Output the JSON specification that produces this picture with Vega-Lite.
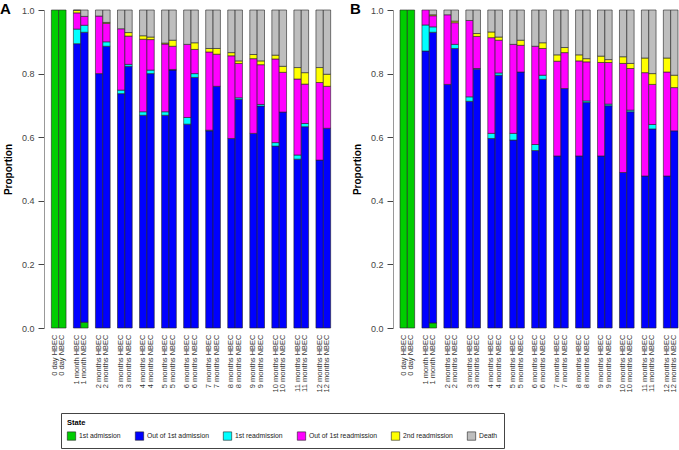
{
  "$schema": "https://vega.github.io/schema/vega-lite/v6.json",
  "padding": {"top": 2, "left": 0, "right": 0, "bottom": 0},
  "bounds": "flush",
  "spacing": 55,
  "config": {"font": "Liberation Sans", "view": {"stroke": null}},
  "datasets": {
    "d": [
      {"p": "A", "bar": "0 day HBEC", "1st admission": 1, "Out of 1st admission": 0, "1st readmission": 0, "Out of 1st readmission": 0, "2nd readmission": 0, "Death": 0},
      {"p": "A", "bar": "0 day NBEC", "1st admission": 1, "Out of 1st admission": 0, "1st readmission": 0, "Out of 1st readmission": 0, "2nd readmission": 0, "Death": 0},
      {"p": "A", "bar": "1 month HBEC", "1st admission": 0, "Out of 1st admission": 0.894, "1st readmission": 0.046, "Out of 1st readmission": 0.051, "2nd readmission": 0.008, "Death": 0.001},
      {"p": "A", "bar": "1 month NBEC", "1st admission": 0.018, "Out of 1st admission": 0.912, "1st readmission": 0.022, "Out of 1st readmission": 0.028, "2nd readmission": 0, "Death": 0.020},
      {"p": "A", "bar": "2 months HBEC", "1st admission": 0, "Out of 1st admission": 0.800, "1st readmission": 0, "Out of 1st readmission": 0.181, "2nd readmission": 0, "Death": 0.019},
      {"p": "A", "bar": "2 months NBEC", "1st admission": 0, "Out of 1st admission": 0.886, "1st readmission": 0.014, "Out of 1st readmission": 0.058, "2nd readmission": 0.003, "Death": 0.039},
      {"p": "A", "bar": "3 months HBEC", "1st admission": 0, "Out of 1st admission": 0.737, "1st readmission": 0.011, "Out of 1st readmission": 0.193, "2nd readmission": 0, "Death": 0.059},
      {"p": "A", "bar": "3 months NBEC", "1st admission": 0, "Out of 1st admission": 0.823, "1st readmission": 0.006, "Out of 1st readmission": 0.089, "2nd readmission": 0.011, "Death": 0.071},
      {"p": "A", "bar": "4 months HBEC", "1st admission": 0, "Out of 1st admission": 0.669, "1st readmission": 0.011, "Out of 1st readmission": 0.228, "2nd readmission": 0.011, "Death": 0.081},
      {"p": "A", "bar": "4 months NBEC", "1st admission": 0, "Out of 1st admission": 0.800, "1st readmission": 0.011, "Out of 1st readmission": 0.096, "2nd readmission": 0.008, "Death": 0.085},
      {"p": "A", "bar": "5 months HBEC", "1st admission": 0, "Out of 1st admission": 0.669, "1st readmission": 0.011, "Out of 1st readmission": 0.213, "2nd readmission": 0.003, "Death": 0.104},
      {"p": "A", "bar": "5 months NBEC", "1st admission": 0, "Out of 1st admission": 0.811, "1st readmission": 0.002, "Out of 1st readmission": 0.073, "2nd readmission": 0.019, "Death": 0.095},
      {"p": "A", "bar": "6 months HBEC", "1st admission": 0, "Out of 1st admission": 0.641, "1st readmission": 0.021, "Out of 1st readmission": 0.230, "2nd readmission": 0, "Death": 0.108},
      {"p": "A", "bar": "6 months NBEC", "1st admission": 0, "Out of 1st admission": 0.788, "1st readmission": 0.012, "Out of 1st readmission": 0.076, "2nd readmission": 0.021, "Death": 0.103},
      {"p": "A", "bar": "7 months HBEC", "1st admission": 0, "Out of 1st admission": 0.620, "1st readmission": 0.002, "Out of 1st readmission": 0.246, "2nd readmission": 0.011, "Death": 0.121},
      {"p": "A", "bar": "7 months NBEC", "1st admission": 0, "Out of 1st admission": 0.760, "1st readmission": 0, "Out of 1st readmission": 0.101, "2nd readmission": 0.018, "Death": 0.121},
      {"p": "A", "bar": "8 months HBEC", "1st admission": 0, "Out of 1st admission": 0.596, "1st readmission": 0, "Out of 1st readmission": 0.260, "2nd readmission": 0.010, "Death": 0.134},
      {"p": "A", "bar": "8 months NBEC", "1st admission": 0, "Out of 1st admission": 0.719, "1st readmission": 0.005, "Out of 1st readmission": 0.108, "2nd readmission": 0.008, "Death": 0.160},
      {"p": "A", "bar": "9 months HBEC", "1st admission": 0, "Out of 1st admission": 0.612, "1st readmission": 0, "Out of 1st readmission": 0.235, "2nd readmission": 0.013, "Death": 0.140},
      {"p": "A", "bar": "9 months NBEC", "1st admission": 0, "Out of 1st admission": 0.698, "1st readmission": 0.005, "Out of 1st readmission": 0.125, "2nd readmission": 0.012, "Death": 0.160},
      {"p": "A", "bar": "10 months HBEC", "1st admission": 0, "Out of 1st admission": 0.572, "1st readmission": 0.011, "Out of 1st readmission": 0.263, "2nd readmission": 0.012, "Death": 0.142},
      {"p": "A", "bar": "10 months NBEC", "1st admission": 0, "Out of 1st admission": 0.679, "1st readmission": 0, "Out of 1st readmission": 0.125, "2nd readmission": 0.019, "Death": 0.177},
      {"p": "A", "bar": "11 months HBEC", "1st admission": 0, "Out of 1st admission": 0.531, "1st readmission": 0.013, "Out of 1st readmission": 0.239, "2nd readmission": 0.036, "Death": 0.181},
      {"p": "A", "bar": "11 months NBEC", "1st admission": 0, "Out of 1st admission": 0.633, "1st readmission": 0.010, "Out of 1st readmission": 0.124, "2nd readmission": 0.036, "Death": 0.197},
      {"p": "A", "bar": "12 months HBEC", "1st admission": 0, "Out of 1st admission": 0.528, "1st readmission": 0, "Out of 1st readmission": 0.244, "2nd readmission": 0.047, "Death": 0.181},
      {"p": "A", "bar": "12 months NBEC", "1st admission": 0, "Out of 1st admission": 0.628, "1st readmission": 0, "Out of 1st readmission": 0.132, "2nd readmission": 0.038, "Death": 0.202},
      {"p": "B", "bar": "0 day HBEC", "1st admission": 1, "Out of 1st admission": 0, "1st readmission": 0, "Out of 1st readmission": 0, "2nd readmission": 0, "Death": 0},
      {"p": "B", "bar": "0 day NBEC", "1st admission": 1, "Out of 1st admission": 0, "1st readmission": 0, "Out of 1st readmission": 0, "2nd readmission": 0, "Death": 0},
      {"p": "B", "bar": "1 month HBEC", "1st admission": 0, "Out of 1st admission": 0.871, "1st readmission": 0.082, "Out of 1st readmission": 0.047, "2nd readmission": 0, "Death": 0},
      {"p": "B", "bar": "1 month NBEC", "1st admission": 0.016, "Out of 1st admission": 0.914, "1st readmission": 0.017, "Out of 1st readmission": 0.035, "2nd readmission": 0.003, "Death": 0.015},
      {"p": "B", "bar": "2 months HBEC", "1st admission": 0, "Out of 1st admission": 0.766, "1st readmission": 0, "Out of 1st readmission": 0.219, "2nd readmission": 0, "Death": 0.015},
      {"p": "B", "bar": "2 months NBEC", "1st admission": 0, "Out of 1st admission": 0.879, "1st readmission": 0.013, "Out of 1st readmission": 0.068, "2nd readmission": 0.005, "Death": 0.035},
      {"p": "B", "bar": "3 months HBEC", "1st admission": 0, "Out of 1st admission": 0.713, "1st readmission": 0.014, "Out of 1st readmission": 0.240, "2nd readmission": 0, "Death": 0.033},
      {"p": "B", "bar": "3 months NBEC", "1st admission": 0, "Out of 1st admission": 0.814, "1st readmission": 0.002, "Out of 1st readmission": 0.101, "2nd readmission": 0.009, "Death": 0.074},
      {"p": "B", "bar": "4 months HBEC", "1st admission": 0, "Out of 1st admission": 0.596, "1st readmission": 0.016, "Out of 1st readmission": 0.301, "2nd readmission": 0.018, "Death": 0.069},
      {"p": "B", "bar": "4 months NBEC", "1st admission": 0, "Out of 1st admission": 0.795, "1st readmission": 0.007, "Out of 1st readmission": 0.103, "2nd readmission": 0.010, "Death": 0.085},
      {"p": "B", "bar": "5 months HBEC", "1st admission": 0, "Out of 1st admission": 0.591, "1st readmission": 0.021, "Out of 1st readmission": 0.280, "2nd readmission": 0, "Death": 0.108},
      {"p": "B", "bar": "5 months NBEC", "1st admission": 0, "Out of 1st admission": 0.805, "1st readmission": 0, "Out of 1st readmission": 0.084, "2nd readmission": 0.016, "Death": 0.095},
      {"p": "B", "bar": "6 months HBEC", "1st admission": 0, "Out of 1st admission": 0.558, "1st readmission": 0.019, "Out of 1st readmission": 0.309, "2nd readmission": 0, "Death": 0.114},
      {"p": "B", "bar": "6 months NBEC", "1st admission": 0, "Out of 1st admission": 0.782, "1st readmission": 0.013, "Out of 1st readmission": 0.084, "2nd readmission": 0.018, "Death": 0.103},
      {"p": "B", "bar": "7 months HBEC", "1st admission": 0, "Out of 1st admission": 0.541, "1st readmission": 0, "Out of 1st readmission": 0.298, "2nd readmission": 0.020, "Death": 0.141},
      {"p": "B", "bar": "7 months NBEC", "1st admission": 0, "Out of 1st admission": 0.753, "1st readmission": 0, "Out of 1st readmission": 0.113, "2nd readmission": 0.016, "Death": 0.118},
      {"p": "B", "bar": "8 months HBEC", "1st admission": 0, "Out of 1st admission": 0.541, "1st readmission": 0, "Out of 1st readmission": 0.299, "2nd readmission": 0.019, "Death": 0.141},
      {"p": "B", "bar": "8 months NBEC", "1st admission": 0, "Out of 1st admission": 0.709, "1st readmission": 0.005, "Out of 1st readmission": 0.123, "2nd readmission": 0.010, "Death": 0.153},
      {"p": "B", "bar": "9 months HBEC", "1st admission": 0, "Out of 1st admission": 0.541, "1st readmission": 0, "Out of 1st readmission": 0.294, "2nd readmission": 0.020, "Death": 0.145},
      {"p": "B", "bar": "9 months NBEC", "1st admission": 0, "Out of 1st admission": 0.699, "1st readmission": 0.005, "Out of 1st readmission": 0.131, "2nd readmission": 0.009, "Death": 0.156},
      {"p": "B", "bar": "10 months HBEC", "1st admission": 0, "Out of 1st admission": 0.489, "1st readmission": 0, "Out of 1st readmission": 0.343, "2nd readmission": 0.021, "Death": 0.147},
      {"p": "B", "bar": "10 months NBEC", "1st admission": 0, "Out of 1st admission": 0.680, "1st readmission": 0.005, "Out of 1st readmission": 0.131, "2nd readmission": 0.016, "Death": 0.168},
      {"p": "B", "bar": "11 months HBEC", "1st admission": 0, "Out of 1st admission": 0.478, "1st readmission": 0, "Out of 1st readmission": 0.325, "2nd readmission": 0.046, "Death": 0.151},
      {"p": "B", "bar": "11 months NBEC", "1st admission": 0, "Out of 1st admission": 0.626, "1st readmission": 0.014, "Out of 1st readmission": 0.126, "2nd readmission": 0.034, "Death": 0.200},
      {"p": "B", "bar": "12 months HBEC", "1st admission": 0, "Out of 1st admission": 0.478, "1st readmission": 0, "Out of 1st readmission": 0.327, "2nd readmission": 0.044, "Death": 0.151},
      {"p": "B", "bar": "12 months NBEC", "1st admission": 0, "Out of 1st admission": 0.620, "1st readmission": 0, "Out of 1st readmission": 0.136, "2nd readmission": 0.039, "Death": 0.205}
    ]
  },
  "hconcat": [
    {
      "width": 294,
      "height": 318,
      "title": {"text": "A", "anchor": "start", "frame": "group", "fontSize": 15, "fontWeight": "bold", "color": "#000", "dx": -44, "dy": 23, "offset": 0, "baseline": "alphabetic"},
      "data": {"name": "d"},
      "transform": [
        {"filter": "datum.p === 'A'"},
        {"fold": ["1st admission", "Out of 1st admission", "1st readmission", "Out of 1st readmission", "2nd readmission", "Death"], "as": ["State", "v"]},
        {"filter": "datum.v > 0"},
        {"calculate": "indexof(['1st admission', 'Out of 1st admission', '1st readmission', 'Out of 1st readmission', '2nd readmission', 'Death'], datum.State)", "as": "ord"}
      ],
      "mark": {"type": "bar", "stroke": "#222", "strokeWidth": 0.6},
      "encoding": {
        "x": {"field": "bar", "type": "nominal",
          "scale": {"domain": ["0 day HBEC","0 day NBEC","_1","1 month HBEC","1 month NBEC","_2","2 months HBEC","2 months NBEC","_3","3 months HBEC","3 months NBEC","_4","4 months HBEC","4 months NBEC","_5","5 months HBEC","5 months NBEC","_6","6 months HBEC","6 months NBEC","_7","7 months HBEC","7 months NBEC","_8","8 months HBEC","8 months NBEC","_9","9 months HBEC","9 months NBEC","_10","10 months HBEC","10 months NBEC","_11","11 months HBEC","11 months NBEC","_12","12 months HBEC","12 months NBEC"], "paddingInner": 0, "paddingOuter": 1.09},
          "axis": {"title": null, "labelAngle": -90, "ticks": false, "domain": false, "labelFontSize": 7.5, "labelColor": "#333", "labelPadding": 6, "labelOverlap": false, "labelBound": false, "labelExpr": "length(datum.value) < 4 ? '' : datum.value"}},
        "y": {"field": "v", "type": "quantitative", "stack": "zero",
          "scale": {"domain": [0, 1], "nice": false},
          "axis": {"title": "Proportion", "titleFontSize": 10, "titleFontWeight": "bold", "titleColor": "#000", "titlePadding": 8, "values": [0, 0.2, 0.4, 0.6, 0.8, 1], "format": ".1f", "labelFontSize": 9, "labelColor": "#444", "tickColor": "#444", "domainColor": "#999", "tickSize": 6, "labelPadding": 4, "grid": false}},
        "color": {"field": "State", "type": "nominal",
          "scale": {"domain": ["1st admission", "Out of 1st admission", "1st readmission", "Out of 1st readmission", "2nd readmission", "Death"], "range": ["#00CD00", "#0000FF", "#00FFFF", "#FF00FF", "#FFFF00", "#BEBEBE"]},
          "legend": {"orient": "none", "legendX": 17, "legendY": 403, "direction": "horizontal", "columns": 6, "title": "State", "titleFontSize": 7.5, "titleFontWeight": "bold", "titleColor": "#000", "titlePadding": 5, "labelFontSize": 6.8, "labelColor": "#222", "symbolType": "square", "symbolSize": 70, "symbolStrokeColor": "#222", "symbolStrokeWidth": 0.6, "columnPadding": 13, "labelOffset": 3, "strokeColor": "#444", "padding": 6}},
        "order": {"field": "ord", "type": "quantitative"}
      }
    },
    {
      "width": 286,
      "height": 318,
      "title": {"text": "B", "anchor": "start", "frame": "group", "fontSize": 15, "fontWeight": "bold", "color": "#000", "dx": -43, "dy": 23, "offset": 0, "baseline": "alphabetic"},
      "data": {"name": "d"},
      "transform": [
        {"filter": "datum.p === 'B'"},
        {"fold": ["1st admission", "Out of 1st admission", "1st readmission", "Out of 1st readmission", "2nd readmission", "Death"], "as": ["State", "v"]},
        {"filter": "datum.v > 0"},
        {"calculate": "indexof(['1st admission', 'Out of 1st admission', '1st readmission', 'Out of 1st readmission', '2nd readmission', 'Death'], datum.State)", "as": "ord"}
      ],
      "mark": {"type": "bar", "stroke": "#222", "strokeWidth": 0.6},
      "encoding": {
        "x": {"field": "bar", "type": "nominal",
          "scale": {"domain": ["0 day HBEC","0 day NBEC","_1","1 month HBEC","1 month NBEC","_2","2 months HBEC","2 months NBEC","_3","3 months HBEC","3 months NBEC","_4","4 months HBEC","4 months NBEC","_5","5 months HBEC","5 months NBEC","_6","6 months HBEC","6 months NBEC","_7","7 months HBEC","7 months NBEC","_8","8 months HBEC","8 months NBEC","_9","9 months HBEC","9 months NBEC","_10","10 months HBEC","10 months NBEC","_11","11 months HBEC","11 months NBEC","_12","12 months HBEC","12 months NBEC"], "paddingInner": 0, "paddingOuter": 0.547, "align": 0.875},
          "axis": {"title": null, "labelAngle": -90, "ticks": false, "domain": false, "labelFontSize": 7.5, "labelColor": "#333", "labelPadding": 6, "labelOverlap": false, "labelBound": false, "labelExpr": "length(datum.value) < 4 ? '' : datum.value"}},
        "y": {"field": "v", "type": "quantitative", "stack": "zero",
          "scale": {"domain": [0, 1], "nice": false},
          "axis": {"title": "Proportion", "titleFontSize": 10, "titleFontWeight": "bold", "titleColor": "#000", "titlePadding": 8, "values": [0, 0.2, 0.4, 0.6, 0.8, 1], "format": ".1f", "labelFontSize": 9, "labelColor": "#444", "tickColor": "#444", "domainColor": "#999", "tickSize": 6, "labelPadding": 4, "grid": false}},
        "color": {"field": "State", "type": "nominal",
          "scale": {"domain": ["1st admission", "Out of 1st admission", "1st readmission", "Out of 1st readmission", "2nd readmission", "Death"], "range": ["#00CD00", "#0000FF", "#00FFFF", "#FF00FF", "#FFFF00", "#BEBEBE"]}},
        "order": {"field": "ord", "type": "quantitative"}
      }
    }
  ],
  "resolve": {"scale": {"x": "independent", "y": "independent"}}
}
